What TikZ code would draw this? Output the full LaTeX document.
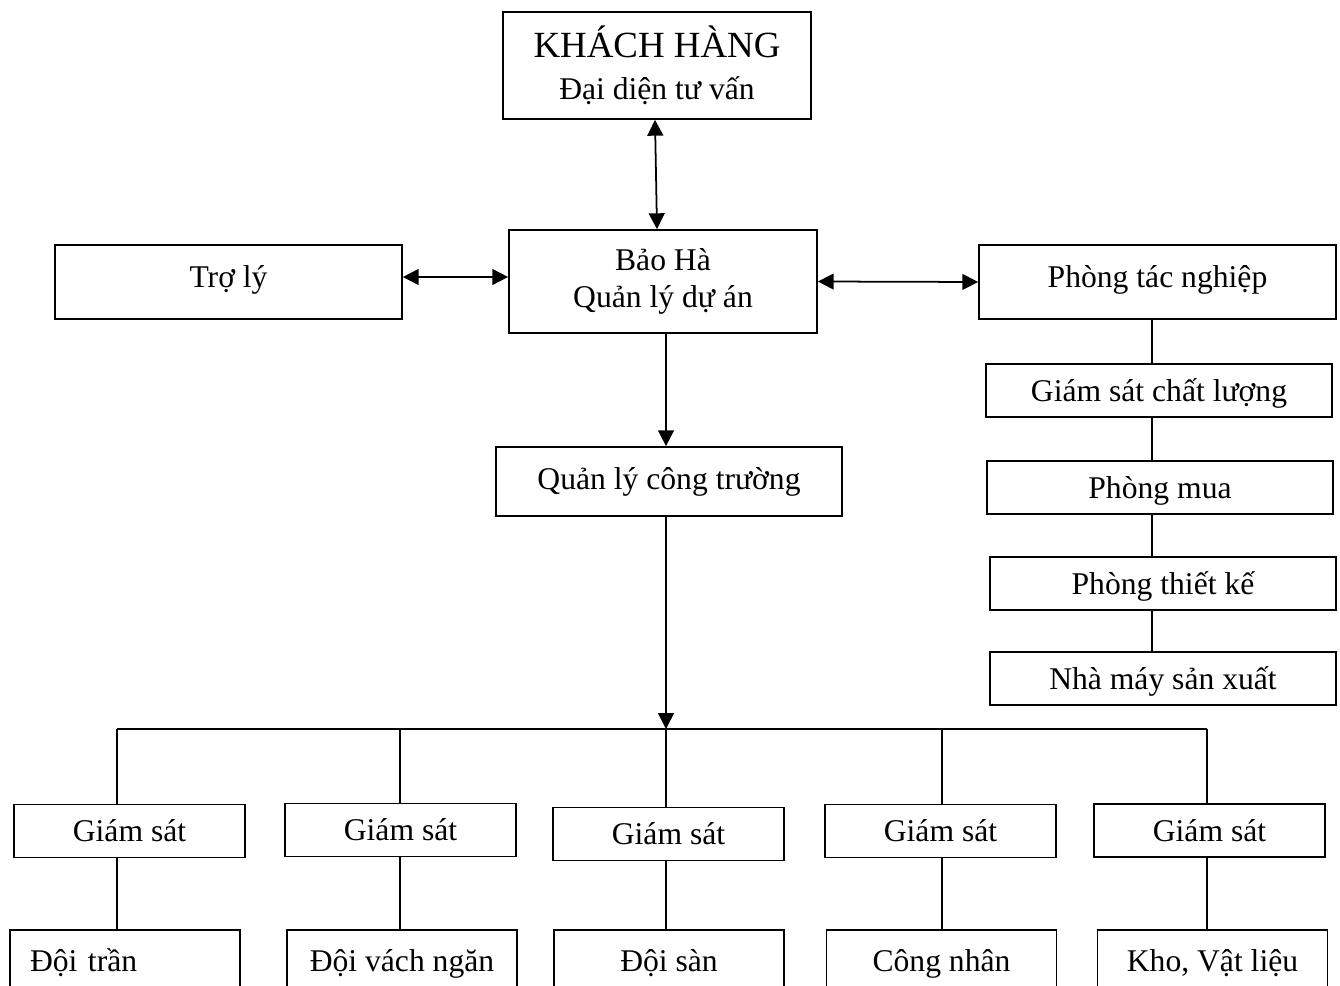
\documentclass[tikz,border=0pt]{standalone}
\usepackage{fontspec}
\setmainfont{Liberation Serif}
\usetikzlibrary{arrows.meta}

\begin{document}
\begin{tikzpicture}[
    x=0.02cm, y=-0.02cm,
    every node/.style={font=\fontsize{18}{22}\selectfont},
    box/.style={
      draw,
      line width=1pt,
      align=center,
      inner sep=0pt
    },
    one/.style={text height=12.3pt, text depth=0pt},
    wide/.style={box, one, minimum width=6.92cm, minimum height=1.06cm},
    gsbox/.style={box, one, minimum width=4.62cm, minimum height=1.06cm},
    team/.style={box, one, minimum width=4.6cm, minimum height=1.24cm},
    link/.style={line width=1pt},
    ar/.style={-{Triangle[length=9pt, width=9pt]}, line width=1pt},
    dar/.style={{Triangle[length=9pt, width=9pt]}-{Triangle[length=9pt, width=9pt]}, line width=1pt}
  ]

    \useasboundingbox (0,0) rectangle (1340,986);
    \clip (0,0) rectangle (1340,986);

    % Top: client and project manager
    \node[box, minimum width=6.16cm, minimum height=2.14cm] (khach) at (657,65.5)
      {{\fontsize{21}{25}\selectfont KHÁCH HÀNG}\\[2pt]Đại diện tư vấn};
    \node[box, minimum width=6.16cm, minimum height=2.06cm] (baoha) at (663,281.5)
      {Bảo Hà\\[-0.5pt]Quản lý dự án};
    \node[box, one, text depth=6.5pt, minimum width=6.94cm, minimum height=1.48cm] (troly) at (228.5,282) {Trợ lý};
    \node[box, one, text depth=6.5pt, minimum width=7.14cm, minimum height=1.48cm] (tacnghiep) at (1157.5,282) {Phòng tác nghiệp};

    \draw[dar] ([xshift=-0.04cm]khach.south) -- ([xshift=-0.12cm]baoha.north);
    \draw[dar] ([yshift=0.1cm]troly.east) -- ([yshift=0.1cm]troly.east -| baoha.west);
    \draw[dar] (baoha.east) -- (tacnghiep.west);

    % Right column: departments
    \node[wide] (gscl) at (1159,390.5) {Giám sát chất lượng};
    \node[wide] (mua) at (1160,487.5) {Phòng mua};
    \node[wide] (thietke) at (1163,583.5) {Phòng thiết kế};
    \node[wide] (nhamay) at (1163,678.5) {Nhà máy sản xuất};

    \coordinate (rc) at (1152,0);
    \draw[link] (rc |- tacnghiep.south) -- (rc |- gscl.north);
    \draw[link] (rc |- gscl.south) -- (rc |- mua.north);
    \draw[link] (rc |- mua.south) -- (rc |- thietke.north);
    \draw[link] (rc |- thietke.south) -- (rc |- nhamay.north);

    % Site manager and bus
    \node[box, one, text depth=3pt, minimum width=6.92cm, minimum height=1.38cm] (qlct) at (669,481.5) {Quản lý công trường};

    \coordinate (b1) at (117,729);
    \coordinate (b2) at (400,729);
    \coordinate (b3) at (666,729);
    \coordinate (b4) at (942,729);
    \coordinate (b5) at (1207,729);

    \draw[ar] (b3 |- baoha.south) -- (b3 |- qlct.north);
    \draw[ar] (b3 |- qlct.south) -- (b3);
    \draw[link] (b1) -- (b5);

    % Supervisors
    \node[gsbox] (gs1) at (129.5,831) {Giám sát};
    \node[gsbox] (gs2) at (400.5,830) {Giám sát};
    \node[gsbox] (gs3) at (668.5,834) {Giám sát};
    \node[gsbox] (gs4) at (940.5,831) {Giám sát};
    \node[gsbox] (gs5) at (1209.5,830.5) {Giám sát};

    % Teams (cut by the lower edge)
    \node[team, text width=3.8cm, align=left] (doitran) at (125,961) {Đội trần};
    \node[team] (doivach) at (402,961) {Đội vách ngăn};
    \node[team] (doisan) at (669,961) {Đội sàn};
    \node[team] (congnhan) at (941.5,961) {Công nhân};
    \node[team] (kho) at (1212.5,961) {Kho, Vật liệu};

    \draw[link] (b1) -- (b1 |- gs1.north);
    \draw[link] (b2) -- (b2 |- gs2.north);
    \draw[link] (b3) -- (b3 |- gs3.north);
    \draw[link] (b4) -- (b4 |- gs4.north);
    \draw[link] (b5) -- (b5 |- gs5.north);

    \draw[link] (b1 |- gs1.south) -- (b1 |- doitran.north);
    \draw[link] (b2 |- gs2.south) -- (b2 |- doivach.north);
    \draw[link] (b3 |- gs3.south) -- (b3 |- doisan.north);
    \draw[link] (b4 |- gs4.south) -- (b4 |- congnhan.north);
    \draw[link] (b5 |- gs5.south) -- (b5 |- kho.north);

  \end{tikzpicture}
\end{document}
